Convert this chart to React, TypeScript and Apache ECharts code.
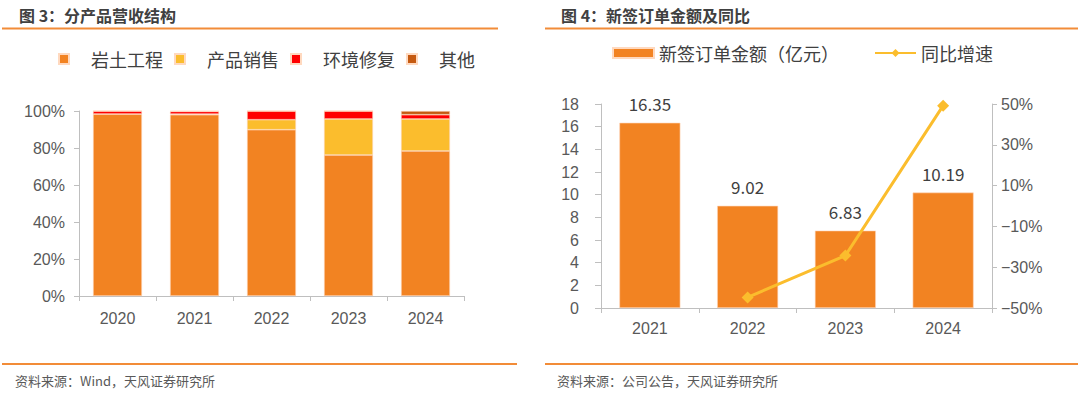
import React, { useEffect, useRef } from "react";
import * as echarts from "echarts";

const years1 = ["2020", "2021", "2022", "2023", "2024"];
const geotech = [98.4, 98.0, 89.9, 76.2, 78.4];
const products = [0, 0.3, 5.4, 19.5, 17.3];
const envRepair = [1.6, 1.5, 4.7, 4.3, 2.3];
const others = [0, 0.2, 0, 0, 2.0];

const years2 = ["2021", "2022", "2023", "2024"];
const newOrders = [16.35, 9.02, 6.83, 10.19];
const yoyGrowth = [null, -44.8, -24.3, 49.2];

const ORANGE = "#F28322";
const YELLOW = "#FBBD2D";
const RED = "#FF0000";
const BROWN = "#C55A11";
const AXIS = "#BFBFBF";
const LABEL = "#595959";
const CJK = "'Noto Sans CJK SC', sans-serif";
const LATIN = "'Liberation Sans', Arial, sans-serif";

export default function App() {
  const ref = useRef<HTMLDivElement>(null);
  useEffect(() => {
    const chart = echarts.init(ref.current!, null, { renderer: "svg" });
    const axisLine = { show: true, lineStyle: { color: AXIS, width: 1 } };
    const axisTick = { show: true, length: 5, lineStyle: { color: AXIS } };
    const barStyle = (c: string) => ({ color: c, borderColor: "#FFD9BF", borderWidth: 0.6 });
    chart.setOption({
      animation: false,
      textStyle: { fontFamily: LATIN },
      title: [
        {
          text: "图 3：分产品营收结构",
          left: 14,
          top: 2,
          textStyle: { fontFamily: CJK, fontSize: 16, fontWeight: "bold", color: "#404040" },
        },
        {
          text: "图 4：新签订单金额及同比",
          left: 556,
          top: 2,
          textStyle: { fontFamily: CJK, fontSize: 16, fontWeight: "bold", color: "#404040" },
        },
        {
          text: "资料来源：Wind，天风证券研究所",
          left: 10,
          top: 369,
          textStyle: { fontFamily: CJK, fontSize: 13, fontWeight: "normal", color: "#595959" },
        },
        {
          text: "资料来源：公司公告，天风证券研究所",
          left: 552,
          top: 369,
          textStyle: { fontFamily: CJK, fontSize: 13, fontWeight: "normal", color: "#595959" },
        },
      ],
      graphic: [
        { type: "line", shape: { x1: 2, y1: 28.5, x2: 498, y2: 28.5 }, style: { stroke: "#F28C38", lineWidth: 2 } },
        { type: "line", shape: { x1: 545, y1: 28.5, x2: 1078, y2: 28.5 }, style: { stroke: "#F28C38", lineWidth: 2 } },
        { type: "line", shape: { x1: 2, y1: 364, x2: 517, y2: 364 }, style: { stroke: "#F28C38", lineWidth: 2 } },
        { type: "line", shape: { x1: 545, y1: 364, x2: 1078, y2: 364 }, style: { stroke: "#F28C38", lineWidth: 2 } },
      ],
      legend: [
        {
          left: 58,
          top: 50,
          padding: 0,
          icon: "rect",
          itemWidth: 10,
          itemHeight: 10,
          itemGap: 11,
          data: ["岩土工程", "产品销售", "环境修复", "其他"],
          textStyle: { fontFamily: CJK, fontSize: 18, color: "#404040", padding: [0, 0, 0, 17] },
        },
        {
          left: 612,
          top: 44,
          padding: 0,
          itemWidth: 41,
          itemHeight: 10,
          itemGap: 35,
          data: [{ name: "新签订单金额（亿元）", icon: "rect" }, { name: "同比增速" }],
          textStyle: { fontFamily: CJK, fontSize: 18, color: "#404040" },
        },
      ],
      grid: [
        { left: 79, top: 111, width: 385, height: 185, containLabel: false },
        { left: 601, top: 104, width: 391, height: 204, containLabel: false },
      ],
      xAxis: [
        {
          type: "category",
          gridIndex: 0,
          data: years1,
          axisLine,
          axisTick,
          axisLabel: { color: LABEL, fontSize: 16, margin: 14, fontFamily: LATIN },
        },
        {
          type: "category",
          gridIndex: 1,
          data: years2,
          axisLine,
          axisTick,
          axisLabel: { color: LABEL, fontSize: 16, margin: 12, fontFamily: LATIN },
        },
      ],
      yAxis: [
        {
          type: "value",
          gridIndex: 0,
          min: 0,
          max: 100,
          interval: 20,
          axisLine,
          axisTick,
          splitLine: { show: false },
          axisLabel: { color: LABEL, fontSize: 16, margin: 14, formatter: "{value}%", fontFamily: LATIN },
        },
        {
          type: "value",
          gridIndex: 1,
          min: 0,
          max: 18,
          interval: 2,
          axisLine,
          axisTick: { show: true, length: 6, lineStyle: { color: AXIS } },
          splitLine: { show: false },
          axisLabel: { color: LABEL, fontSize: 16, margin: 22, fontFamily: LATIN },
        },
        {
          type: "value",
          gridIndex: 1,
          position: "right",
          min: -50,
          max: 50,
          interval: 20,
          axisLine,
          axisTick,
          splitLine: { show: false },
          axisLabel: {
            color: LABEL,
            fontSize: 16,
            margin: 9,
            fontFamily: LATIN,
            formatter: (v: number) => `${v}%`.replace("-", "−"),
          },
        },
      ],
      series: [
        { name: "岩土工程", type: "bar", stack: "s", xAxisIndex: 0, yAxisIndex: 0, barWidth: 49, data: geotech, itemStyle: barStyle(ORANGE) },
        { name: "产品销售", type: "bar", stack: "s", xAxisIndex: 0, yAxisIndex: 0, barWidth: 49, data: products, itemStyle: barStyle(YELLOW) },
        { name: "环境修复", type: "bar", stack: "s", xAxisIndex: 0, yAxisIndex: 0, barWidth: 49, data: envRepair, itemStyle: barStyle(RED) },
        { name: "其他", type: "bar", stack: "s", xAxisIndex: 0, yAxisIndex: 0, barWidth: 49, data: others, itemStyle: barStyle(BROWN) },
        {
          name: "新签订单金额（亿元）",
          type: "bar",
          xAxisIndex: 1,
          yAxisIndex: 1,
          barWidth: 61,
          data: newOrders,
          itemStyle: barStyle(ORANGE),
          label: {
            show: true,
            position: "top",
            distance: 11,
            fontFamily: CJK,
            fontSize: 17,
            color: "#404040",
            formatter: (p: any) => p.value.toFixed(2),
          },
        },
        {
          name: "同比增速",
          type: "line",
          xAxisIndex: 1,
          yAxisIndex: 2,
          data: yoyGrowth,
          symbol: "diamond",
          symbolSize: 12,
          lineStyle: { color: YELLOW, width: 3 },
          itemStyle: { color: YELLOW },
          z: 5,
        },
      ],
    });
    return () => chart.dispose();
  }, []);
  return (
    <div
      ref={ref}
      style={{ position: "fixed", left: 0, top: 0, width: 1080, height: 394, background: "#fff" }}
    />
  );
}
